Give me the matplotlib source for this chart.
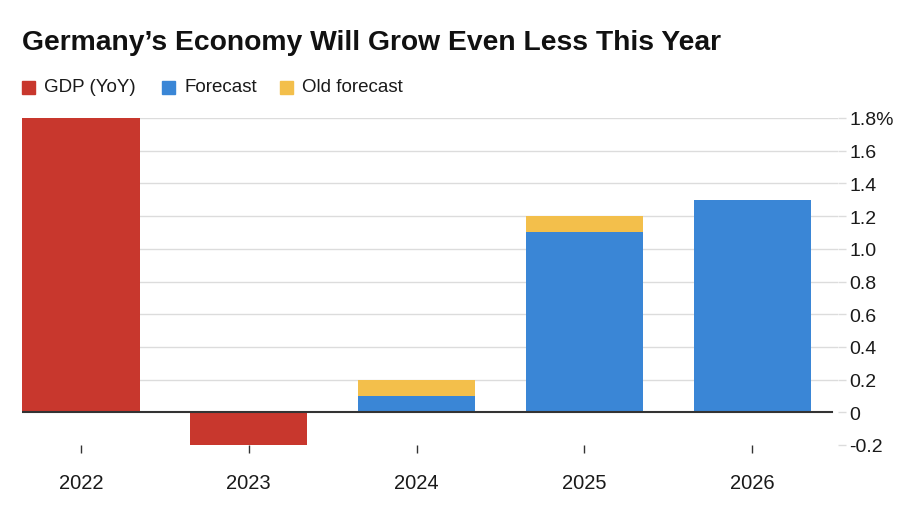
import matplotlib.pyplot as plt
import numpy as np

plt.rcParams['font.family'] = ['Liberation Sans', 'DejaVu Sans']

years = ['2022', '2023', '2024', '2025', '2026']
gdp = [1.8, -0.2, np.nan, np.nan, np.nan]
forecast = [np.nan, np.nan, 0.1, 1.1, 1.3]
old_forecast = [np.nan, np.nan, 0.2, 1.2, np.nan]
yticks = [-0.2, 0, 0.2, 0.4, 0.6, 0.8, 1.0, 1.2, 1.4, 1.6, 1.8]
ytick_labels = ['-0.2', '0', '0.2', '0.4', '0.6', '0.8', '1.0', '1.2', '1.4', '1.6', '1.8%']

red = '#c8372d'
blue = '#3a86d6'
yellow = '#f3bf4b'

fig = plt.figure(figsize=(9, 5.1), dpi=100)
ax = fig.add_axes([22 / 900, 1 - 446 / 510, (838 - 22) / 900, (446 - 119) / 510])

x = np.arange(len(years))
w = 0.7
# gridlines behind bars (none at -0.2)
for t in yticks:
    if t > 0:
        ax.axhline(t, color='#dcdcdc', lw=1, zorder=0)
ax.bar(x, old_forecast, width=w, color=yellow, zorder=2)
ax.bar(x, forecast, width=w, color=blue, zorder=3)
ax.bar(x, gdp, width=w, color=red, zorder=3)
ax.axhline(0, xmax=0.993, color='#333333', lw=1.5, zorder=4)

ax.set_xlim(-0.35, 4.51)
ax.set_ylim(-0.2, 1.8)
ax.set_xticks(x)
ax.set_xticklabels(years, fontsize=14.5, color='#1a1a1a')
ax.tick_params(axis='x', length=6, width=1, color='#333333', pad=14)
ax.yaxis.tick_right()
ax.set_yticks(yticks)
ax.set_yticklabels(ytick_labels, fontsize=14, color='#1a1a1a')
ax.tick_params(axis='y', length=6, width=1, color='#dcdcdc', pad=2)
for s in ax.spines.values():
    s.set_visible(False)

fig.text(22 / 900, 1 - 43 / 510, "Germany\u2019s Economy Will Grow Even Less This Year",
         fontsize=20.3, fontweight='bold', va='center', ha='left', color='#111111')

# legend row
leg_items = [('GDP (YoY)', red, 22), ('Forecast', blue, 162), ('Old forecast', yellow, 280)]
for label, c, px in leg_items:
    fig.patches.append(plt.Rectangle((px / 900, 1 - 95 / 510), 13 / 900, 13 / 510,
                                     transform=fig.transFigure, color=c, figure=fig))
    fig.text((px + 22) / 900, 1 - 88 / 510, label, fontsize=13.5, va='center', ha='left', color='#1a1a1a')

fig.savefig('out.png', dpi=100, facecolor='white')
